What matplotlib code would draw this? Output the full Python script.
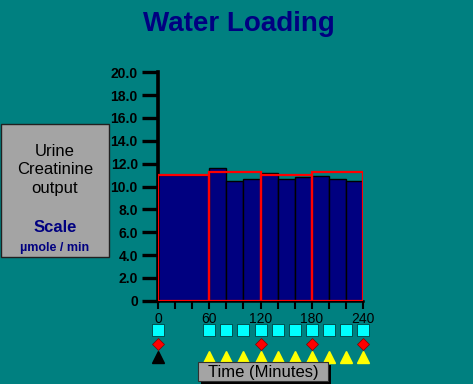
import matplotlib
matplotlib.use("Agg")
import matplotlib.pyplot as plt
from matplotlib.patches import Rectangle

# data
bar_starts = [0, 60, 80, 100, 120, 140, 160, 180, 200, 220]
bar_widths = [60, 20, 20, 20, 20, 20, 20, 20, 20, 20]
bar_values = [11.0, 11.6, 10.5, 10.7, 11.2, 10.7, 10.8, 10.9, 10.7, 10.5]

period_starts = [0, 60, 120, 180]
period_values = [11.0, 11.3, 11.0, 11.3]

square_times = [0, 60, 80, 100, 120, 140, 160, 180, 200, 220, 240]
diamond_times = [0, 120, 180, 240]
black_tri_times = [0]
yellow_tri_times = [60, 80, 100, 120, 140, 160, 180, 200, 220, 240]

xtick_pos = [0, 20, 40, 60, 80, 100, 120, 140, 160, 180, 200, 220, 240]
xtick_lab = ["0", "", "", "60", "", "", "120", "", "", "180", "", "", "240"]
ytick_pos = [0, 2, 4, 6, 8, 10, 12, 14, 16, 18, 20]
ytick_lab = ["0", "2.0", "4.0", "6.0", "8.0", "10.0", "12.0", "14.0", "16.0", "18.0", "20.0"]

teal = "#008080"
navy = "#000080"
W, H = 473, 384
plt.rcParams['font.family'] = ['Liberation Sans', 'DejaVu Sans']

fig = plt.figure(figsize=(W / 100, H / 100), dpi=100, facecolor=teal)

# axes placed in pixels: x 158..363, y 0 at 300.7, 20 at 72.3
ax = fig.add_axes([158 / W, 1 - 300.7 / H, 205 / W, (300.7 - 72.3) / H])
ax.set_facecolor(teal)
ax.set_xlim(0, 240)
ax.set_ylim(0, 20)

ax.bar(bar_starts, bar_values, width=bar_widths, align="edge",
       color=navy, edgecolor="black", linewidth=1, zorder=2)
ax.bar(period_starts, period_values, width=60, align="edge",
       fill=False, edgecolor="#ff0000", linewidth=1.6, zorder=3)

for s in ["top", "right"]:
    ax.spines[s].set_visible(False)
ax.spines["left"].set_linewidth(2.6)
ax.spines["bottom"].set_linewidth(1.8)

ax.set_yticks(ytick_pos)
ax.set_yticklabels(ytick_lab, fontsize=10, fontweight="bold")
ax.tick_params(axis="y", length=11.5, width=2.4, pad=3)
ax.set_xticks(xtick_pos)
ax.set_xticklabels(xtick_lab, fontsize=10)
ax.tick_params(axis="x", length=6, width=1.5, pad=2)

# event markers below the axis
def ypix(p):
    return (300.7 - p) / 11.42

ax.plot(square_times, [ypix(330)] * len(square_times), ls="none", marker="s",
        ms=8.5, mfc="#00ffff", mec="#004040", mew=0.6, clip_on=False)
ax.plot(diamond_times, [ypix(344)] * len(diamond_times), ls="none", marker="D",
        ms=6.5, mfc="#ff0000", mec="#800000", mew=0.5, clip_on=False)
ax.plot(black_tri_times, [ypix(357)] * len(black_tri_times), ls="none", marker="^",
        ms=9, mfc="black", mec="black", clip_on=False)
ax.plot(yellow_tri_times, [ypix(357)] * len(yellow_tri_times), ls="none", marker="^",
        ms=9, mfc="#ffff00", mec="#ffff00", clip_on=False)

# title
fig.text(239 / W, 1 - 24 / H, "Water Loading", ha="center", va="center",
         fontsize=20, fontweight="bold", color=navy)

# left scale box
fig.patches.append(Rectangle((1 / W, 1 - 257 / H), 108 / W, 133 / H,
                             transform=fig.transFigure, facecolor="#a4a4a4",
                             edgecolor="#202020", linewidth=1))
for txt, yp in [("Urine", 152), ("Creatinine", 170), ("output", 189)]:
    fig.text(55 / W, 1 - yp / H, txt, ha="center", va="center",
             fontsize=12, color="black")
fig.text(55 / W, 1 - 228 / H, "Scale", ha="center", va="center",
         fontsize=12, fontweight="bold", color=navy)
fig.text(55 / W, 1 - 248 / H, "\u00b5mole / min", ha="center", va="center",
         fontsize=9, fontweight="bold", color=navy)

# time label box with shadow
fig.patches.append(Rectangle((201 / W, 1 - 384 / H), 130 / W, 19 / H,
                             transform=fig.transFigure, facecolor="black",
                             edgecolor="none"))
fig.patches.append(Rectangle((198 / W, 1 - 381 / H), 130 / W, 19 / H,
                             transform=fig.transFigure, facecolor="#a4a4a4",
                             edgecolor="#303030", linewidth=0.8))
fig.text(263 / W, 1 - 372 / H, "Time (Minutes)", ha="center", va="center",
         fontsize=12, color="black")

fig.savefig("out.png", dpi=100, facecolor=teal)
